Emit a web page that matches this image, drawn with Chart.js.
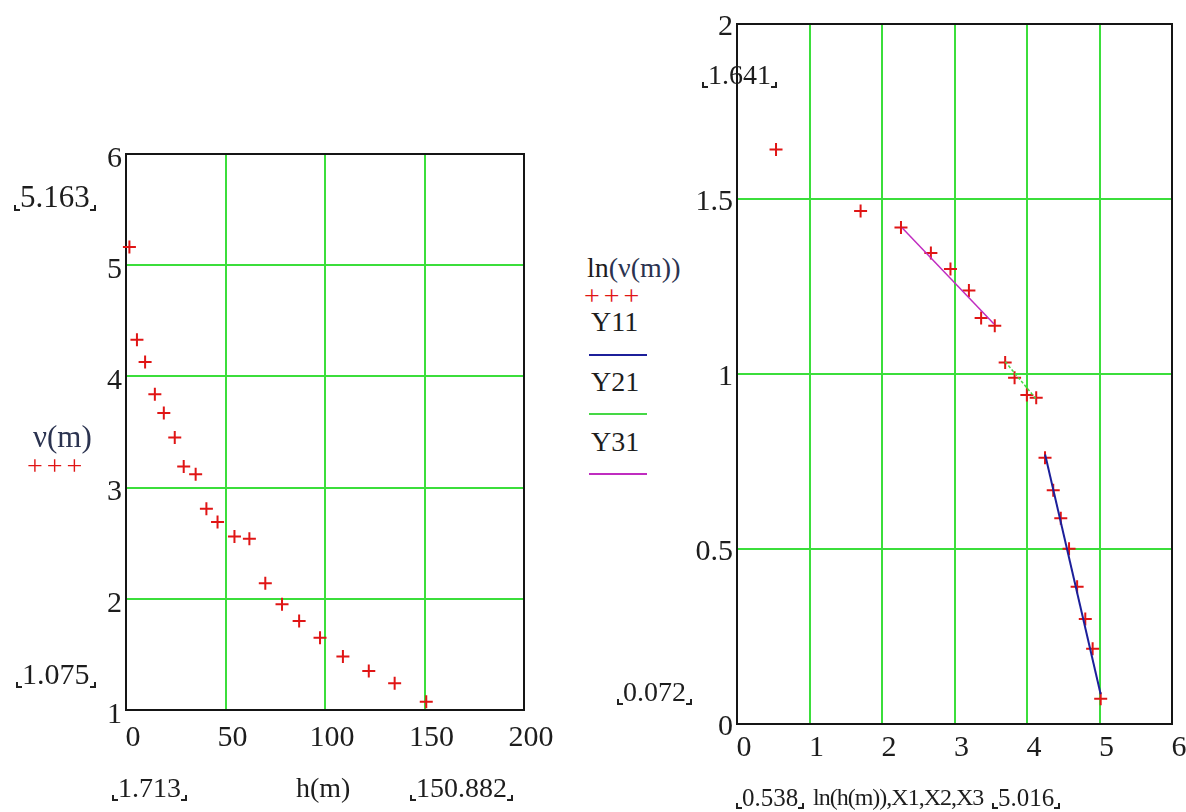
<!DOCTYPE html>
<html>
<head>
<meta charset="utf-8">
<script src="https://cdn.jsdelivr.net/npm/chart.js@4.4.1/dist/chart.umd.min.js"></script>
<style>
  html, body { margin: 0; padding: 0; background: #fff; width: 1186px; height: 812px; overflow: hidden; }
  canvas { position: absolute; top: 0; }
  #left { left: 0; }
  #right { left: 690px; }
  .t { position: absolute; font-family: "Liberation Serif", "Times New Roman", serif; color: #1d1d1d; line-height: 1; white-space: nowrap; }
  .var { color: #2b3350; }
  .plus { color: #e01515; letter-spacing: 4px; }
  .lim { padding: 0 6px; }
  .lim::before, .lim::after { content: ""; position: absolute; bottom: 1px; width: 4px; height: 4px; border-bottom: 2px solid #222; }
  .lim::before { left: 0; border-left: 2px solid #222; }
  .lim::after { right: 0; border-right: 2px solid #222; }
  .key { position: absolute; height: 0; width: 58px; left: 589px; }
</style>
</head>
<body>
<canvas id="left" width="570" height="812"></canvas>
<canvas id="right" width="530" height="812"></canvas>

<script>
// h(m) and v(m)
const h  = [1.713, 5.5, 9.6, 14.5, 19, 24.5, 29, 35, 40.4, 46, 54.5, 62, 70, 78.4, 87, 97.5, 109, 122, 135, 150.882];
const nu = [5.163, 4.33, 4.13, 3.84, 3.67, 3.45, 3.19, 3.12, 2.81, 2.69, 2.56, 2.54, 2.14, 1.95, 1.80, 1.65, 1.48, 1.35, 1.24, 1.075];

// fitted segments on the log plot
const X1 = [4.25, 5.016];
const Y11 = [0.77, 0.085];
const X2 = [3.70, 4.12];
const Y21 = [1.035, 0.93];
const X3 = [2.28, 3.545];
const Y31 = [1.417, 1.143];

const leftXTicks = [0, 50, 100, 150, 200];
const leftYTicks = [1, 2, 3, 4, 5, 6];
const rightXTicks = [0, 1, 2, 3, 4, 5, 6];
const rightYTicks = [0, 0.5, 1, 1.5, 2];

const GRID = '#3bde3b';
const RED = '#e01515';
const tickFont = { family: "'Liberation Serif', 'Times New Roman', serif", size: 30 };

const framePlugin = {
  id: 'frame',
  beforeDatasetsDraw(chart) {
    const { ctx, chartArea: a } = chart;
    ctx.save();
    ctx.strokeStyle = '#151515';
    ctx.lineWidth = 2;
    ctx.strokeRect(a.left, a.top, a.right - a.left, a.bottom - a.top);
    ctx.restore();
  }
};

function axis(ticks, min, max, opts) {
  return {
    type: 'linear',
    min: min,
    max: max,
    afterBuildTicks: s => { s.ticks = ticks.map(v => ({ value: v })); },
    afterFit: s => { if (opts.width) s.width = opts.width; if (opts.height) s.height = opts.height; },
    grid: {
      drawTicks: false,
      lineWidth: 2,
      color: c => (c.tick && (c.tick.value === min || c.tick.value === max)) ? 'rgba(0,0,0,0)' : GRID
    },
    border: { display: false },
    ticks: {
      font: tickFont,
      color: '#1d1d1d',
      padding: opts.pad,
      labelOffset: opts.offset,
      maxRotation: 0,
      autoSkip: false,
      callback: v => String(v)
    }
  };
}

const baseOpts = {
  responsive: false,
  animation: false,
  plugins: { legend: { display: false }, tooltip: { enabled: false } }
};

new Chart(document.getElementById('left'), {
  type: 'scatter',
  data: {
    datasets: [{
      data: h.map((x, i) => ({ x: x, y: nu[i] })),
      pointStyle: 'cross',
      pointRadius: 6.5,
      borderColor: RED,
      borderWidth: 2,
      clip: false
    }]
  },
  options: Object.assign({}, baseOpts, {
    layout: { padding: { top: 154, right: 46, left: 0, bottom: 0 } },
    scales: {
      x: axis(leftXTicks, 0, 200, { height: 102, pad: 10, offset: 7 }),
      y: axis(leftYTicks, 1, 6, { width: 126, pad: 4, offset: 5 })
    }
  }),
  plugins: [framePlugin]
});

const lnPts = h.map((x, i) => ({ x: Math.log(x), y: Math.log(nu[i]) }));

new Chart(document.getElementById('right'), {
  type: 'scatter',
  data: {
    datasets: [
      { data: X1.map((x, i) => ({ x: x, y: Y11[i] })), showLine: true, borderColor: '#1c1f9a', borderWidth: 2, pointRadius: 0, clip: false },
      { data: X2.map((x, i) => ({ x: x, y: Y21[i] })), showLine: true, borderColor: '#45d845', borderWidth: 1.5, borderDash: [3, 2], pointRadius: 0, clip: false },
      { data: X3.map((x, i) => ({ x: x, y: Y31[i] })), showLine: true, borderColor: '#c02cc0', borderWidth: 1.5, pointRadius: 0, clip: false },
      { data: lnPts, pointStyle: 'cross', pointRadius: 6.5, borderColor: RED, borderWidth: 2, clip: false }
    ]
  },
  options: Object.assign({}, baseOpts, {
    layout: { padding: { top: 24, right: 48, left: 0, bottom: 0 } },
    scales: {
      x: axis(rightXTicks, 0, 6, { height: 88, pad: 6, offset: 7 }),
      y: axis(rightYTicks, 0, 2, { width: 47, pad: 4, offset: 3 })
    }
  }),
  plugins: [framePlugin]
});

// text labels around the plots (Mathcad style)
const notes = [
  ['5.163', 14, 196, 31, 'lim', 0],
  ['1.075', 16, 674, 30, 'lim', 0],
  ['1.713', 112, 788, 28, 'lim', 0],
  ['h(m)', 296, 788, 28, '', 0],
  ['150.882', 410, 788, 28, 'lim', 0],
  ['1.641', 702, 75, 28, 'lim', 0],
  ['0.072', 617, 692, 28, 'lim', 0],
  ['0.538', 736, 797, 25, 'lim', 0],
  ['ln(h(m)),X1,X2,X3', 813, 797, 24, '', -1],
  ['5.016', 992, 797, 25, 'lim', 0],
  ['Y11', 591, 322, 28, '', 0],
  ['Y21', 591, 382, 28, '', 0],
  ['Y31', 591, 442, 28, '', 0]
];
notes.forEach(([txt, x, y, size, cls, ls]) => {
  const d = document.createElement('div');
  d.className = 't ' + cls;
  d.style.left = x + 'px';
  d.style.top = (y - size / 2) + 'px';
  d.style.fontSize = size + 'px';
  d.style.letterSpacing = ls + 'px';
  d.textContent = txt;
  document.body.appendChild(d);
});

function addHtml(html, x, y, size) {
  const d = document.createElement('div');
  d.className = 't';
  d.style.left = x + 'px';
  d.style.top = (y - size / 2) + 'px';
  d.style.fontSize = size + 'px';
  d.innerHTML = html;
  document.body.appendChild(d);
}
addHtml('<span class="var">ν(m)</span>', 33, 436, 31);
addHtml('<span class="plus">+++</span>', 27, 466, 28);
addHtml('ln<span class="var">(ν(m))</span>', 587, 268, 28);
addHtml('<span class="plus">+++</span>', 584, 296, 28);

[['#1c1f9a', 354], ['#45d845', 413], ['#c02cc0', 473]].forEach(([c, y]) => {
  const k = document.createElement('div');
  k.className = 'key';
  k.style.top = y + 'px';
  k.style.borderTop = '2px solid ' + c;
  document.body.appendChild(k);
});
</script>
</body>
</html>
